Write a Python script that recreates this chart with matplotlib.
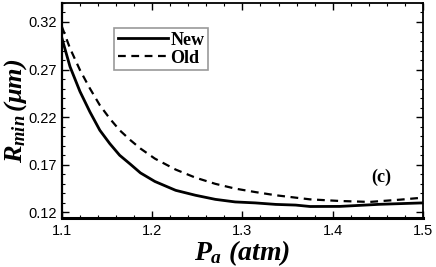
import matplotlib
matplotlib.use("Agg")
import matplotlib.pyplot as plt
from matplotlib.ticker import MultipleLocator

# pressure (atm) and minimum radius (um)
p_new = [1.10, 1.109, 1.12, 1.131, 1.142, 1.153, 1.164, 1.176, 1.187, 1.203,
         1.226, 1.248, 1.27, 1.292, 1.314, 1.337, 1.359, 1.375, 1.408, 1.452, 1.50]
r_new = [0.303, 0.273, 0.247, 0.2256, 0.2063, 0.1923, 0.180, 0.1705, 0.1615, 0.1525,
         0.1432, 0.138, 0.1337, 0.131, 0.130, 0.1284, 0.1277, 0.1262, 0.1263, 0.1285, 0.1300]

p_old = [1.10, 1.109, 1.12, 1.131, 1.142, 1.153, 1.164, 1.176, 1.187, 1.203,
         1.226, 1.248, 1.27, 1.292, 1.314, 1.337, 1.359, 1.375, 1.408, 1.441, 1.475, 1.50]
r_old = [0.315, 0.2923, 0.2695, 0.2502, 0.2326, 0.2186, 0.2063, 0.1958, 0.1871, 0.1765,
         0.1650, 0.1565, 0.150, 0.145, 0.1414, 0.138, 0.1355, 0.1337, 0.132, 0.131, 0.1334, 0.1355]

serif = "Liberation Serif"
plt.rcParams["mathtext.fontset"] = "custom"
plt.rcParams["mathtext.rm"] = "Liberation Serif:bold:italic"
plt.rcParams["mathtext.it"] = "Liberation Serif:bold:italic"
plt.rcParams["mathtext.bf"] = "Liberation Serif:bold:italic"

fig = plt.figure(figsize=(4.36, 2.67), dpi=100)
ax = fig.add_axes([0.142, 0.182, 0.828, 0.807])

ax.plot(p_new, r_new, color="black", lw=2.0, ls="-", label="New")
ax.plot(p_old, r_old, color="black", lw=1.6, ls=(0, (3.5, 2.5)), label="Old")

ax.set_xlim(1.1, 1.5)
ax.set_ylim(0.1137, 0.34)
ax.set_xticks([1.1, 1.2, 1.3, 1.4, 1.5])
ax.set_yticks([0.12, 0.17, 0.22, 0.27, 0.32])
ax.xaxis.set_minor_locator(MultipleLocator(0.02))
ax.yaxis.set_minor_locator(MultipleLocator(0.01))
ax.tick_params(which="both", direction="in", top=True, right=True, labelsize=10.5)
ax.tick_params(which="major", length=5, width=1)
ax.tick_params(which="minor", length=2.5, width=0.8)
ax.tick_params(axis="x", pad=4)
for lab in ax.get_xticklabels() + ax.get_yticklabels():
    lab.set_family("Liberation Sans")
for s in ax.spines.values():
    s.set_linewidth(1.3)
ax.spines["bottom"].set_linewidth(2.2)
ax.spines["left"].set_linewidth(1.6)

ax.set_xlabel(r"$P_a\ (atm)$", fontsize=20, labelpad=0)
ax.set_ylabel(r"$R_{min}\,(\mu m)$", fontsize=19)
ax.yaxis.set_label_coords(-0.092, 0.5)

leg = ax.legend(loc="upper left", bbox_to_anchor=(0.12, 0.925), frameon=True, fancybox=False,
                handlelength=2.8, handletextpad=0.1, borderpad=0.2, labelspacing=0.05,
                prop={"family": serif, "weight": "bold", "size": 13})
leg.get_frame().set_edgecolor("gray")
leg.get_frame().set_linewidth(1.2)

ax.text(0.884, 0.19, "(c)", transform=ax.transAxes, fontsize=13, family=serif,
        fontweight="bold", ha="center", va="center")

fig.savefig("out.png", dpi=100)
